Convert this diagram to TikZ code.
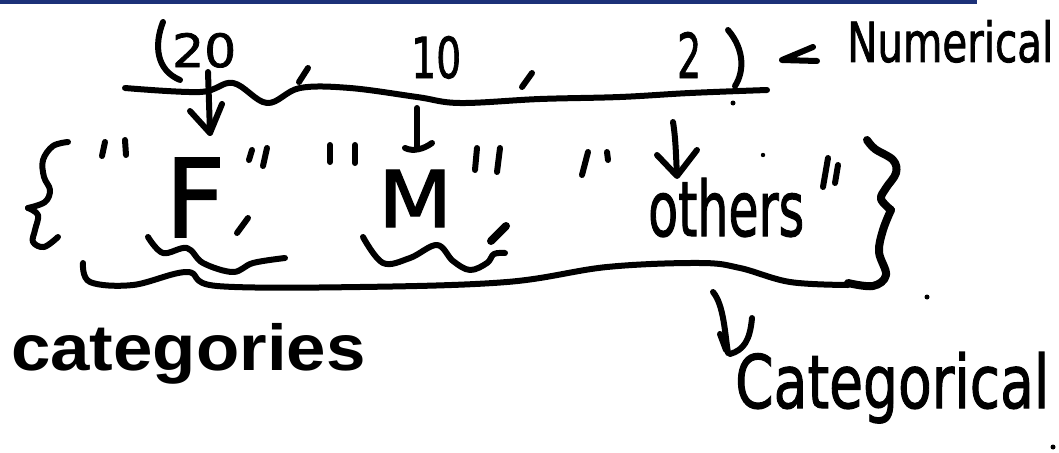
\documentclass[tikz,border=0pt]{standalone}
\usepackage{fontspec}
\setmainfont{Liberation Sans}
\newfontfamily\handfont[FakeBold=1.6]{DejaVu Sans}
\usepackage{graphicx}
\definecolor{barblue}{RGB}{28,49,120}
\begin{document}
\begin{tikzpicture}[x=1pt,y=-1pt,
  pen/.style={line width=6pt,line cap=round,line join=round},
  heavypen/.style={pen,line width=8pt},
  hand/.style={inner sep=0pt,anchor=base west,font=\handfont},
  dot/.style={fill=black}]
\useasboundingbox (0,0) rectangle (1059,452);
% header bar
\fill[barblue] (0,0) rectangle (977,4.5);

% ---------- numeric vector (20, 10, 2) ----------
\draw[pen] (163,22) .. controls (154,45) and (156,70) .. (180,80);
\node[hand] (n20) at (172,67) {\resizebox{64pt}{34pt}{20}};
\draw[pen] (308,68) -- (299,82);
\node[hand] (n10) at (411,78) {\resizebox{50pt}{42pt}{10}};
\draw[pen] (532,73) -- (522,87);
\node[hand] (n2) at (677,78) {\resizebox{24pt}{46pt}{2}};
\draw[pen] (728,30) .. controls (745,50) and (744,72) .. (735,86);
\draw[pen] plot[smooth,tension=0.6] coordinates
  {(125,88) (200,92) (233,83) (267,103) (300,88) (350,88) (417,97)
   (460,103) (540,99) (620,97) (690,93) (767,90)};
\fill[dot] (733,103) circle (2.5pt);

% label for the numeric vector
\draw[pen] (813,47) -- (782,60) -- (817,61);
\node[hand] (numerical) at (847,62) {\resizebox{206pt}{42pt}{Numerical}};

% ---------- set of categories ----------
% left brace
\draw[pen] plot[smooth,tension=0.6] coordinates
  {(68,142) (53,146) (43,160) (44,177) (50,190) (45,202) (28,208)};
\draw[pen] plot[smooth,tension=0.6] coordinates
  {(28,208) (38,215) (35,230) (33,242) (44,247) (58,237)};

% "F"
\draw[pen] (105,142) -- (102,156);
\draw[pen] (125,140) -- (126,155);
\node[hand] (F) at (165,237) {\resizebox{60pt}{79pt}{F}};
\draw[pen] (252,150) -- (249,160);
\draw[pen] (267,148) -- (263,166);
\draw[pen] (248,218) -- (237,233);
\draw[pen] plot[smooth,tension=0.6] coordinates
  {(148,237) (163,253) (187,248) (203,263) (233,272) (253,263) (285,258)};

% "M"
\draw[pen] (330,145) -- (330,162);
\draw[pen] (355,145) -- (355,163);
\node[hand] (M) at (378,227) {\resizebox{74pt}{57pt}{M}};
\draw[pen] (477,148) -- (475,170);
\draw[pen] (500,148) -- (497,172);
\draw[heavypen] (506,226) -- (491,241);
\draw[pen] plot[smooth,tension=0.6] coordinates
  {(363,237) (383,263) (410,258) (437,245) (453,261) (470,270) (487,263) (494,254) (505,253)};

% "others"
\draw[pen] (588,152) -- (582,175);
\draw[pen] (607,152) -- (608,160);
\node[hand] (others) at (648,236) {\resizebox{156pt}{58pt}{others}};
\draw[pen] (828,158) -- (823,187);
\draw[pen] (838,165) -- (835,183);
\fill[dot] (763,155) circle (2.2pt);

% right brace
\draw[heavypen] plot[smooth,tension=0.6] coordinates
  {(867,140) (875,149) (893,160) (896,173) (886,188) (881,199) (891,210)};
\draw[heavypen] plot[smooth,tension=0.6] coordinates
  {(891,210) (883,230) (879,252) (886,275) (873,286) (848,283)};

% underline of the set
\draw[pen] plot[smooth,tension=0.6] coordinates
  {(83,263) (90,282) (133,285) (187,272) (217,286) (360,287) (507,282)
   (607,267) (700,263) (740,268) (790,282) (848,285)};

% arrows from the vector to the set members
\draw[pen] (208,72) -- (210,133);
\draw[pen] (190,111) -- (210,133) -- (222,104);
\draw[pen] (417,108) -- (417,149);
\draw[pen] (405,148) .. controls (413,152) and (424,149) .. (432,143);
\draw[pen] (673,122) .. controls (676,140) and (676,160) .. (677,175);
\draw[pen] (657,155) -- (677,176) -- (697,150);

% ---------- categorical label ----------
\draw[pen] (713,292) .. controls (724,305) and (725,335) .. (728,353);
\draw[pen] (720,334) -- (726,350);
\draw[pen] (752,318) .. controls (750,340) and (744,350) .. (730,354);
\node[hand] (categorical) at (735,408) {\resizebox{314pt}{56pt}{Categorical}};
\fill[dot] (927,297) circle (2.5pt);
\fill[dot] (1053,447) circle (2.5pt);

% slide text
\node[inner sep=0pt,anchor=base west,font=\fontsize{65pt}{70pt}\bfseries] (categories)
  at (11,370) {\scalebox{1.09}[1]{categories}};
\end{tikzpicture}
\end{document}
